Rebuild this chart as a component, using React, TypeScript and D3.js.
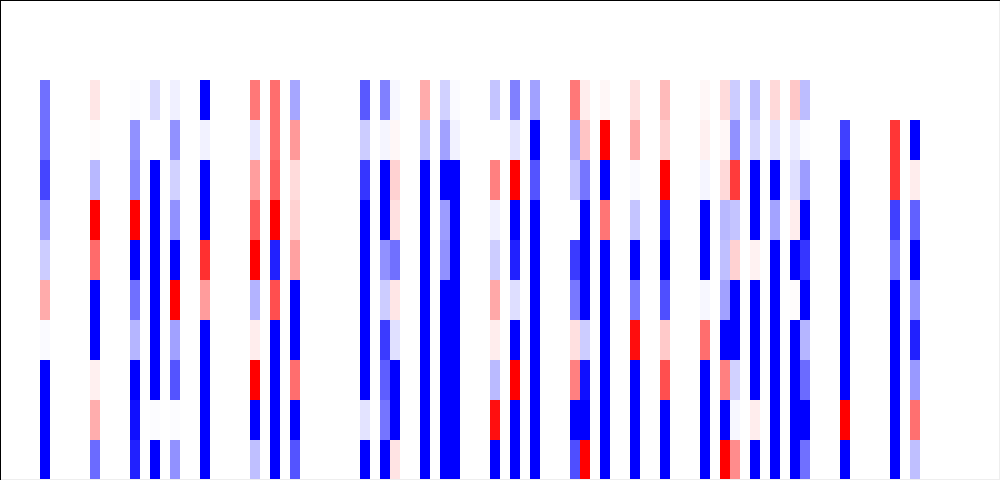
import React from "react";
import * as d3 from "d3";

const rows = [0, 1, 2, 3, 4, 5, 6, 7, 8, 9];
const columns = [40, 90, 130, 150, 170, 200, 250, 270, 290, 360, 380, 390, 420, 440, 450, 490, 510, 530, 570, 580, 600, 630, 660, 700, 720, 730, 750, 770, 790, 800, 840, 890, 910];

const v040 = [-0.56, -0.57, -0.73, -0.38, -0.2, 0.33, -0.02, -1, -1, -1];
const v090 = [0.1, 0.01, -0.28, 1, 0.58, -1, -1, 0.06, 0.32, -0.58];
const v130 = [-0.01, -0.43, -0.48, 1, -1, -0.56, -0.29, -1, -0.94, -0.87];
const v150 = [-0.15, 0, -1, -1, -1, -1, -1, -1, -0.01, -1];
const v170 = [-0.06, -0.43, -0.18, -0.43, -1, 1, -0.37, -0.67, -0.01, -0.43];
const v200 = [-1, -0.05, -1, -1, 0.81, 0.39, -1, -1, -1, -1];
const v250 = [0.53, -0.09, 0.38, 0.65, 1, -0.3, 0.07, 1, -1, -0.25];
const v270 = [0.57, 0.57, 0.63, 1, -0.87, 0.69, -1, -1, -1, -1];
const v290 = [-0.35, 0.4, 0.14, 0.18, 0.37, -1, -1, 0.57, -1, -0.67];
const v360 = [-0.65, -0.2, -0.79, -1, -1, -1, -1, -1, -0.11, -1];
const v380 = [-0.5, -0.04, -1, -1, -0.43, -0.2, -0.77, -0.63, -0.54, -1];
const v390 = [-0.03, 0.03, 0.18, 0.12, -0.56, 0.1, -0.12, -1, -1, 0.11];
const v420 = [0.33, -0.26, -1, -1, -1, -1, -1, -1, -1, -1];
const v440 = [-0.18, -0.37, -1, -0.39, -0.43, -1, -1, -1, -1, -1];
const v450 = [-0.02, -0.05, -1, -1, -1, -1, -1, -1, -1, -1];
const v490 = [-0.23, 0, 0.5, -0.06, -0.2, 0.34, 0.07, -0.27, 0.94, -1];
const v510 = [-0.5, -0.11, 1, -1, -0.87, -0.13, -1, 1, -1, -1];
const v530 = [-0.37, -1, -0.67, -1, -1, -1, -1, -1, -1, -1];
const v570 = [0.53, -0.37, -0.23, 0, -0.77, -0.53, 0.12, 0.5, -1, -0.69];
const v580 = [0.07, 0.23, -0.54, -1, -1, -1, -0.2, -0.94, -1, 1];
const v600 = [0.03, 1, -1, 0.54, -1, -1, -1, -1, -1, -1];
const v630 = [0.12, 0.34, -0.02, -0.23, -1, -0.53, 0.95, -1, -1, -1];
const v660 = [0.27, 0.18, 1, -0.83, -1, -0.69, 0.21, 0.69, -1, -1];
const v700 = [0.03, 0.06, -0.04, -1, -1, -0.03, 0.57, -1, -1, -1];
const v720 = [0.14, 0.03, 0.15, -0.28, -0.25, -0.37, -1, 0.5, -1, 1];
const v730 = [-0.2, -0.43, 0.77, -0.23, 0.18, -1, -1, -0.18, -0.03, 0.45];
const v750 = [-0.26, -0.16, -1, -1, 0.05, -1, -1, -1, 0.07, -1];
const v770 = [0.15, -0.11, -1, -0.36, -1, -1, -1, -1, -1, -1];
const v790 = [0.22, -0.07, -0.12, 0.07, -1, 0.01, -1, -1, -1, -1];
const v800 = [-0.26, -0.01, -0.39, -1, -0.79, -1, -0.29, -0.58, -1, -0.56];
const v840 = [0, -0.75, -1, -1, -1, -1, -1, -1, 1, -1];
const v890 = [0, 0.79, 0.79, -0.75, -0.56, -1, -1, -1, -1, -1];
const v910 = [0, -1, 0.07, -0.62, -1, -0.43, -0.87, -0.4, 0.56, -0.25];

const series = [v040, v090, v130, v150, v170, v200, v250, v270, v290, v360, v380, v390, v420, v440, v450, v490, v510, v530, v570, v580, v600, v630, v660, v700, v720, v730, v750, v770, v790, v800, v840, v890, v910];

const W = 1000;
const H = 480;

export default function App() {
  const x = d3.scaleLinear().domain([0, W]).range([0, W]);
  const y = d3.scaleBand<number>().domain(rows).range([80, H]);
  const color = d3
    .scaleLinear<string>()
    .domain([-1, 0, 1])
    .range(["#0000ff", "#ffffff", "#ff0000"])
    .clamp(true);

  return (
    <svg
      width={W}
      height={H}
      shapeRendering="crispEdges"
      style={{ position: "fixed", left: 0, top: 0, display: "block", background: "#fff" }}
    >
      <g>
        {columns.map((c, i) =>
          rows.map((r) => (
            <rect
              key={`${c}-${r}`}
              x={x(c)}
              y={y(r)}
              width={x(c + 10) - x(c)}
              height={y.bandwidth()}
              fill={color(series[i][r])}
            />
          ))
        )}
      </g>
      <rect x={0} y={0} width={W} height={1} fill="#000" />
      <rect x={0} y={0} width={1} height={H} fill="#000" />
      <rect x={W - 1} y={1} width={1} height={H - 1} fill="#eee" />
      <rect x={1} y={H - 1} width={W - 1} height={1} fill="#eee" />
    </svg>
  );
}
